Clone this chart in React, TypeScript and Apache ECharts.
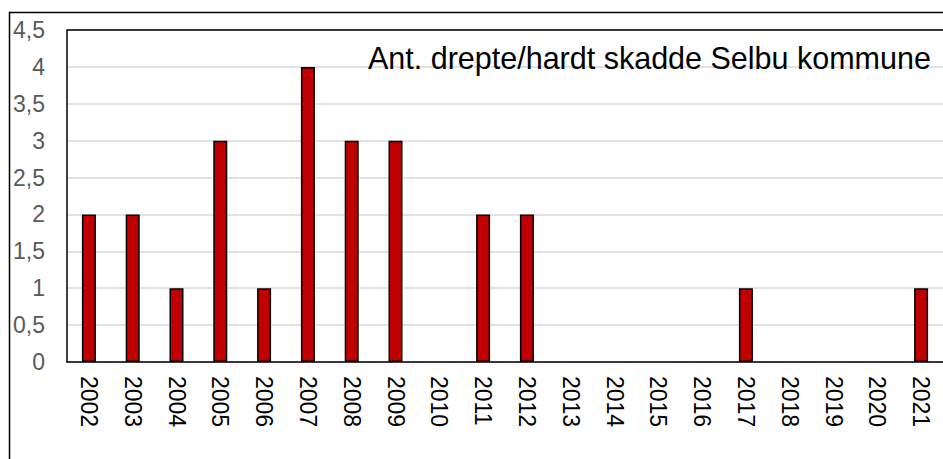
import React, { useEffect, useRef } from "react";
import * as echarts from "echarts";

const years = ["2002","2003","2004","2005","2006","2007","2008","2009","2010","2011","2012","2013","2014","2015","2016","2017","2018","2019","2020","2021"];
const values = [2, 2, 1, 3, 1, 4, 3, 3, 0, 2, 2, 0, 0, 0, 0, 1, 0, 0, 0, 1];
const annotation = "Ant. drepte/hardt skadde Selbu kommune";

export default function App() {
  const ref = useRef<HTMLDivElement>(null);
  useEffect(() => {
    document.body.style.margin = "0";
    const chart = echarts.init(ref.current!, null, { renderer: "svg" });
    chart.setOption({
      animation: false,
      backgroundColor: "#ffffff",
      textStyle: { fontFamily: "Liberation Sans, Arial, sans-serif" },
      grid: {
        left: 67, top: 30, width: 883, height: 332,
        show: false,
      },
      xAxis: {
        type: "category",
        data: years,
        axisLine: { lineStyle: { color: "#000000", width: 1.5 } },
        axisTick: { show: false },
        axisLabel: { rotate: -90, color: "#000000", fontSize: 23, margin: 14, interval: 0 },
        z: 5,
      },
      yAxis: {
        type: "value",
        min: 0, max: 4.5, interval: 0.5,
        axisLine: { show: true, lineStyle: { color: "#000000", width: 1.5 } },
        axisTick: { show: false },
        splitLine: { lineStyle: { color: "#d9d9d9", width: 1.5 } },
        axisLabel: {
          color: "#595959", fontSize: 23, margin: 22,
          formatter: (v: number) => String(v).replace(".", ","),
        },
      },
      series: [{
        type: "bar",
        data: values.map((v) => (v === 0 ? null : v)),
        barWidth: 14,
        itemStyle: { color: "#C00000", borderColor: "#000000", borderWidth: 1.5 },
      }],
      graphic: [
        {
          type: "line", silent: true, z: 10,
          shape: { x1: 9.5, y1: 12, x2: 9.5, y2: 470 },
          style: { stroke: "#000000", lineWidth: 1.5 },
        },
        {
          type: "line", silent: true, z: 10,
          shape: { x1: 9, y1: 12.5, x2: 960, y2: 12.5 },
          style: { stroke: "#000000", lineWidth: 1.5 },
        },
        {
          type: "line", silent: true, z: 10,
          shape: { x1: 67, y1: 30, x2: 960, y2: 30 },
          style: { stroke: "#000000", lineWidth: 1.5 },
        },
        {
          type: "text", x: 368, y: 58, z: 10,
          style: {
            text: annotation, fill: "#000000", verticalAlign: "middle", align: "left",
            font: "30.5px 'Liberation Sans', Arial, sans-serif",
          },
        },
      ],
    });
    return () => chart.dispose();
  }, []);
  return <div ref={ref} style={{ width: 943, height: 459 }} />;
}
